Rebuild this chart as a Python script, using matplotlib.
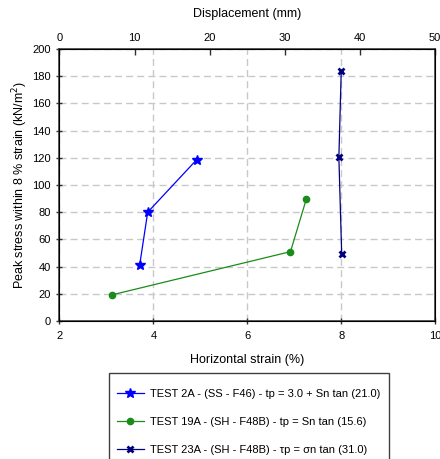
import matplotlib.pyplot as plt

plt.rcParams['font.family'] = ['Liberation Sans', 'DejaVu Sans']

# TEST 2A
strain_2a = [3.71, 3.88, 4.92]
stress_2a = [41.4, 80.0, 118.5]
# TEST 19A
strain_19a = [3.13, 6.92, 7.26]
stress_19a = [19.3, 51.0, 90.0]
# TEST 23A
strain_23a = [8.01, 7.95, 8.0]
stress_23a = [49.3, 120.3, 183.5]

labels = [
    'TEST 2A - (SS - F46) - tp = 3.0 + Sn tan (21.0)',
    'TEST 19A - (SH - F48B) - tp = Sn tan (15.6)',
    'TEST 23A - (SH - F48B) - \u03c4p = \u03c3n tan (31.0)',
]

x_ticks = [2, 4, 6, 8, 10]
y_ticks = list(range(0, 201, 20))
disp_ticks = [0, 10, 20, 30, 40, 50]

fig = plt.figure(figsize=(4.4, 4.59), dpi=100)
ax = fig.add_axes([0.135, 0.3007, 0.854, 0.5925])

l1, = ax.plot(strain_2a, stress_2a, color='#0000ff', lw=0.9, marker='*', ms=7)
l2, = ax.plot(strain_19a, stress_19a, color='#1a8c1a', lw=0.9, marker='o', ms=4.5)
l3, = ax.plot(strain_23a, stress_23a, color='#000080', lw=0.9, marker='x', ms=5, mew=2)

ax.set_xlim(2, 10)
ax.set_ylim(0, 200)
ax.set_xticks(x_ticks)
ax.set_yticks(y_ticks)
ax.tick_params(direction='inout', length=5, width=1, labelsize=8, color='#303030')
ax.tick_params(axis='x', pad=5)
ax.grid(True, ls=(0, (5, 3)), color='#c8c8c8', lw=1)
ax.set_axisbelow(True)
for s in ax.spines.values():
    s.set_color('#404040')
    s.set_linewidth(1.2)

ax.set_xlabel('Horizontal strain (%)', fontsize=9, labelpad=9)
ax.set_ylabel('Peak stress within 8 % strain (kN/m$^2$)', fontsize=9, labelpad=2)

top = ax.twiny()
top.set_xlim(0, 50)
top.set_xticks(disp_ticks)
top.tick_params(direction='in', length=4, width=1, labelsize=8, color='#303030', pad=4)
top.set_xlabel('Displacement (mm)', fontsize=9, labelpad=12)

# legend box runs off the bottom of the image, like the original
box = plt.Rectangle((109 / 440, -0.05), 280 / 440, 86 / 459 + 0.05,
                    transform=fig.transFigure, fill=False, ec='#404040', lw=1)
fig.patches.append(box)
fig.legend([l1, l2, l3], labels, loc='upper left',
           bbox_to_anchor=(117 / 440, 1 - 389 / 459), fontsize=8,
           frameon=False, borderpad=0, borderaxespad=0, labelspacing=1.6,
           handlelength=2.4, handletextpad=0.55)

plt.savefig('out.png', dpi=100)
